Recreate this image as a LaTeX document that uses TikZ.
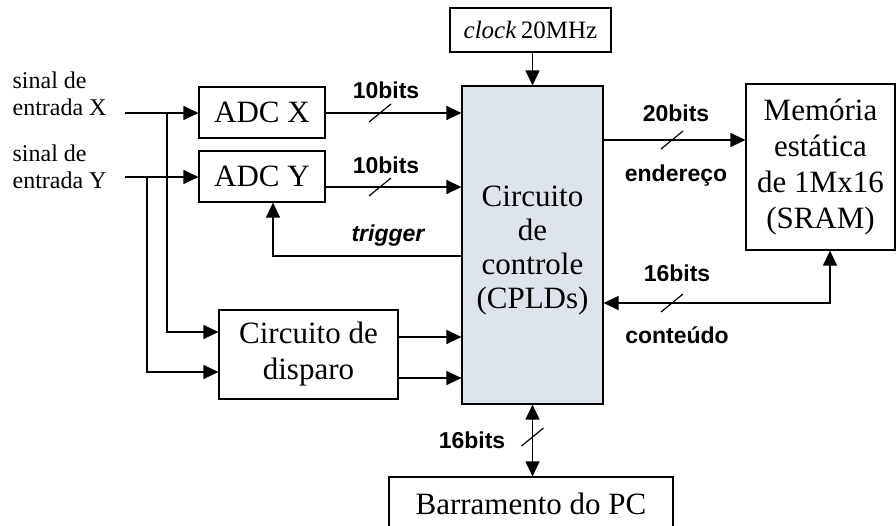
\documentclass[tikz,border=0pt]{standalone}
\usepackage{fontspec}
\setmainfont{Liberation Serif}
\setsansfont{Liberation Sans}
\usetikzlibrary{arrows.meta}
\definecolor{ctrlfill}{RGB}{221,228,235}
\begin{document}
\begin{tikzpicture}[x=1pt,y=-1pt,
  line width=1.2pt,
  box/.style={draw,rectangle,inner sep=0pt,align=center,font=\fontsize{31}{36}\selectfont},
  boxtext/.style={inner sep=0pt,align=center,font=\fontsize{31}{34}\selectfont},
  arr/.style={-{Triangle[length=15pt,width=14pt]}},
  darr/.style={{Triangle[length=15pt,width=14pt]}-{Triangle[length=15pt,width=14pt]}},
  bits/.style={font=\sffamily\bfseries\fontsize{23}{27}\selectfont,inner sep=0pt},
  sig/.style={font=\fontsize{24}{27}\selectfont,align=left,inner sep=0pt,anchor=west},
  slash/.pic={\draw (-11,9) -- (11,-9);}
]
\useasboundingbox (0,0) rectangle (896,525);
\clip (0,0) rectangle (896,525);

% blocks
\node[box, minimum width=161pt, minimum height=44pt, font=\fontsize{25}{30}\selectfont] (clk) at (530.5,30) {\textit{clock}\,20MHz};
\node[box, fill=ctrlfill, minimum width=141pt, minimum height=318pt] (ctrl) at (532.5,245) {};
\node[boxtext] (ctrltxt) at (532.5,251) {Circuito\\de\\controle\\(CPLDs)};
\node[box, minimum width=126pt, minimum height=51pt] (ADCx) at (262,112.5) {ADC X};
\node[box, minimum width=126pt, minimum height=51pt] (ADCy) at (262,176.5) {ADC Y};
\node[box, minimum width=179pt, minimum height=89pt] (disp) at (308.5,354.5) {Circuito de\\disparo};
\node[box, minimum width=149pt, minimum height=166pt] (mem) at (820.5,167) {Memória\\estática\\de 1Mx16\\(SRAM)};
\node[box, minimum width=284pt, minimum height=54pt] (bus) at (531,504) {Barramento do PC};

% input signals
\node[sig] (sigx) at (12,93.5) {sinal de\\entrada X};
\node[sig] (sigy) at (12,166.5) {sinal de\\entrada Y};
\coordinate (inX) at (125,113);
\coordinate (inY) at (125,177);
\coordinate (jX) at (167,113);
\coordinate (jY) at (147,177);
\draw[arr] (inX) -- (inX -| ADCx.west);
\draw[arr] (inY) -- (inY -| ADCy.west);
\draw[arr] (jX) |- (disp.west |- 0,332);
\draw[arr] (jY) |- (disp.west |- 0,372);

% converters to control logic
\draw[arr] (ADCx.east |- 0,113) -- (ctrl.west |- 0,113);
\draw[arr] (ADCy.east |- 0,187) -- (ctrl.west |- 0,187);
\pic at (380,113) {slash};
\pic at (380,187) {slash};
\node[bits] (b10x) at (386,90) {10bits};
\node[bits] (b10y) at (386,165) {10bits};

% trigger feedback
\draw[arr] (ctrl.west |- 0,256) -| ([xshift=11pt]ADCy.south);
\node[bits, font=\sffamily\bfseries\itshape\fontsize{23}{27}\selectfont] (trig) at (388,236) {trigger};

% trigger circuit outputs
\draw[arr] (disp.east |- 0,337) -- (ctrl.west |- 0,337);
\draw[arr] (disp.east |- 0,378) -- (ctrl.west |- 0,378);

% clock
\draw[arr] (ctrl.north |- clk.south) -- (ctrl.north);

% memory address and data
\draw[arr] (ctrl.east |- 0,140) -- (mem.west |- 0,140);
\pic at (672,140) {slash};
\node[bits] (b20) at (676,113) {20bits};
\node[bits] (addr) at (676,176) {endereço};
\coordinate (mj) at (830,303);
\draw[darr] (mem.south -| mj) -- (mj) -- (ctrl.east |- mj);
\pic at (672,303) {slash};
\node[bits] (b16m) at (677,273) {16bits};
\node[bits] (data) at (677,335) {conteúdo};

% PC bus
\draw[darr] (ctrl.south) -- (bus.north -| ctrl.south);
\pic at (532.5,437) {slash};
\node[bits] (b16p) at (472,440) {16bits};
\end{tikzpicture}
\end{document}
